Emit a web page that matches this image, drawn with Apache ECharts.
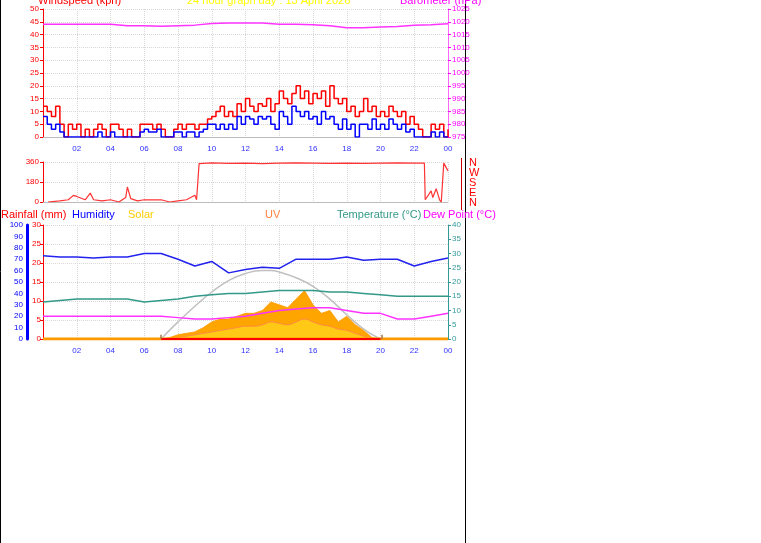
<!DOCTYPE html>
<html>
<head>
<meta charset="UTF-8">
<script src="https://cdn.jsdelivr.net/npm/echarts@6/dist/echarts.min.js"></script>
<style>html,body{margin:0;padding:0;background:#fff}#c{width:761px;height:543px}</style>
</head>
<body>
<div id="c"></div>
<script>
// 风速 15 分钟一点 (0..24h)
const gust = [12,10,8,12, 5,0,5,3, 5,0,3,0, 3,5,3,0, 5,5,3,0, 3,0,0,5, 5,5,3,5, 3,0,0,3,
  5,3,5,5, 3,5,5,7, 8,10,12,8, 10,8,13,10, 15,12,10,13, 12,15,10,13, 18,15,13,17, 20,15,18,13,
  17,15,18,12, 20,15,13,15, 10,12,8,10, 15,10,12,8, 10,8,12,10, 8,10,5,8, 5,3,0,0, 5,3,5,0, 3];
const avgWind = [8,5,3,5, 2,0,0,0, 0,0,0,0, 0,2,0,0, 2,0,0,0, 0,0,0,2, 3,2,2,3, 0,0,0,2,
  2,0,2,2, 0,2,3,5, 5,3,5,3, 5,3,8,5, 8,7,5,8, 7,8,5,3, 10,8,5,12, 10,8,10,7,
  8,5,10,7, 8,5,3,7, 3,5,0,5, 5,3,7,3, 5,3,7,5, 3,5,2,3, 0,0,0,0, 2,0,2,0, 0];
const baro = [1019,1019,1019,1019,1019,1018.5,1018.5,1018.3,1018.5,1018.7,1019.3,1019.5,1019.5,1019.5,
  1019,1019,1018.8,1018.5,1017.7,1017.7,1018,1018.2,1018.7,1018.8,1019.2];
const dirX = [0.3,1,1.5,1.8,2,2.5,2.8,3,3.5,4,4.5,4.9,5.0,5.2,5.6,6,7,7.5,8,8.5,9,9.1,9.2,9.25,10,11,12,13,14,15,16,17,18,19,20,21,22,22.6,22.65,23,23.1,23.3,23.5,23.6,23.7,23.75,23.8,24];
const dirY = [0,10,20,60,50,20,80,20,10,20,0,40,135,30,10,20,20,0,10,20,60,20,20,345,352,348,350,345,350,352,350,348,350,347,350,352,350,350,20,100,40,120,20,0,0,350,350,280];
const hours = [0,1,2,3,4,5,6,7,8,9,10,11,12,13,14,15,16,17,18,19,20,21,22,23,24];
const humidity = [73,72,72,71,72,72,75,75,70,64,68,58,61,63,62,70,70,70,72,69,70,70,64,68,71];
const temperature = [13,13.5,14,14,14,14,13,13.5,14,15,15.5,16,16,16.5,17,17,17,16.5,16.5,16,15.5,15,15,15,15];
const dewPoint = [8,8,8,8,8,8,8,8,7.5,7,7,7.5,8,9,10,10.5,11,11,10,9,9,7,7,8,9];
const solarX = [7,7.5,8,8.5,9,9.5,10,10.5,11,11.5,12,12.5,13,13.5,14,14.5,15,15.5,16,16.5,17,17.5,18,18.5,19,19.5,20];
const solar = [0,0.5,1.5,2,2.5,4,6,7,7,8,9,9,10,13,12,11,14,17,12,9,10,6,8,5,3,0.5,0];
const uv = [0,0.2,0.5,1,1.5,2,2.5,3,3.5,4,4.5,4.5,5,6,5.5,5,6,7,6,5,4.5,3.5,3,2,1,0.2,0];
const sunX = [7,8,9,10,11,12,13,13.5,14,15,16,17,18,19,20];
const sunY = [0,6,11.5,16.5,20.5,23,24,24,23.5,21.5,18.5,14,8.5,3.5,0];

const q = (xs, ys) => xs.map((x, i) => [x, ys[i]]);
const quarter = arr => arr.map((v, i) => [i / 4, v]);
const L = 43, W = 405;
const grids = [
  {left: L, top: 9, width: W, height: 128},
  {left: L, top: 162, width: W, height: 40},
  {left: L, top: 225, width: W, height: 114}
];
const dotted = {show: true, lineStyle: {color: '#d8d8d8', type: 'dotted'}};
const xAx = (gi, show) => ({
  type: 'value', gridIndex: gi, min: 0, max: 24, interval: 2,
  axisLine: {show: true, lineStyle: {color: '#bbb'}}, axisTick: {show: false},
  splitLine: dotted,
  axisLabel: {show: show, color: '#3030ff', fontSize: 8, fontFamily: 'Arial',
    formatter: v => v === 0 ? '' : String(v % 24).padStart(2, '0')}
});
const yAx = (gi, min, max, iv, color, pos, offset, show, extra) => Object.assign({
  type: 'value', gridIndex: gi, min, max, interval: iv, position: pos, offset: offset || 0,
  axisLine: {show: true, lineStyle: {color: color === '#ff00ff' ? '#ff66ff' : color, width: 1}},
  axisTick: {show: true, length: 3, lineStyle: {color}},
  axisLabel: {show: show, color, fontSize: 8, fontFamily: 'Arial', margin: 4, formatter: v => String(v)},
  splitLine: {show: false}
}, extra || {});

const option = {
  animation: false,
  backgroundColor: '#fff',
  grid: grids,
  xAxis: [xAx(0, true), xAx(1, false), xAx(2, true)],
  yAxis: [
    yAx(0, 0, 50, 5, '#ff0000', 'left', 0, true, {splitLine: dotted}),
    yAx(0, 975, 1025, 5, '#ff00ff', 'right', 0, true),
    yAx(1, 0, 360, 180, '#ff0000', 'left', 0, true, {splitLine: dotted}),
    yAx(2, 0, 30, 5, '#ff0000', 'left', 0, true, {splitLine: dotted,
      axisLabel: {color: '#ff0000', fontSize: 8, fontFamily: 'Arial', margin: 2}}),
    yAx(2, 0, 100, 10, '#0000ff', 'left', 16, true, {axisLine: {show: true, lineStyle: {color: '#0000ff', width: 3}},
      axisTick: {show: false}}),
    yAx(2, 0, 40, 5, '#339999', 'right', 0, true)
  ],
  series: [
    {type: 'line', xAxisIndex: 0, yAxisIndex: 0, data: quarter(gust), step: 'end', symbol: 'none', lineStyle: {color: '#ff0000', width: 1.5}},
    {type: 'line', xAxisIndex: 0, yAxisIndex: 0, data: quarter(avgWind), step: 'end', symbol: 'none', lineStyle: {color: '#0000ff', width: 1.5}},
    {type: 'line', xAxisIndex: 0, yAxisIndex: 1, data: q(hours, baro), symbol: 'none', lineStyle: {color: '#ff33ff', width: 1.5}},
    {type: 'line', xAxisIndex: 1, yAxisIndex: 2, data: q(dirX, dirY), symbol: 'none', lineStyle: {color: '#ff3333', width: 1.2}},
    {type: 'line', xAxisIndex: 2, yAxisIndex: 5, data: q(sunX, sunY), smooth: true, symbol: 'none', lineStyle: {color: '#c0c0c0', width: 1.5},
      markLine: {silent: true, symbol: 'none', label: {show: false}, lineStyle: {color: '#a0784a', type: 'solid', width: 1.5},
        data: [[{coord: [7, 0]}, {coord: [7, 1.5]}], [{coord: [20.1, 0]}, {coord: [20.1, 1.5]}]]}},
    {type: 'line', xAxisIndex: 2, yAxisIndex: 5, data: q(solarX, solar), symbol: 'none', lineStyle: {color: '#ff9900', width: 0.8},
      areaStyle: {color: '#ffa500', opacity: 1}},
    {type: 'line', xAxisIndex: 2, yAxisIndex: 5, data: q(solarX, uv), smooth: true, symbol: 'none', lineStyle: {color: '#ff8844', width: 1},
      areaStyle: {color: '#ffd21a', opacity: 0.8}},
    {type: 'line', xAxisIndex: 2, yAxisIndex: 3, data: [[0, 0], [24, 0]], symbol: 'none', lineStyle: {color: '#ff9900', width: 3}},
    {type: 'line', xAxisIndex: 2, yAxisIndex: 3, data: [[7, 0], [20, 0]], symbol: 'none', lineStyle: {color: '#ff0000', width: 2}},
    {type: 'line', xAxisIndex: 2, yAxisIndex: 4, data: q(hours, humidity), symbol: 'none', lineStyle: {color: '#2222ee', width: 1.5}},
    {type: 'line', xAxisIndex: 2, yAxisIndex: 5, data: q(hours, temperature), symbol: 'none', lineStyle: {color: '#339988', width: 1.5}},
    {type: 'line', xAxisIndex: 2, yAxisIndex: 5, data: q(hours, dewPoint), symbol: 'none', lineStyle: {color: '#ff33ff', width: 1.5}}
  ],
  graphic: [
    {type: 'line', shape: {x1: 0.5, y1: 0, x2: 0.5, y2: 543}, style: {stroke: '#000', lineWidth: 1}},
    {type: 'line', shape: {x1: 465.5, y1: 0, x2: 465.5, y2: 543}, style: {stroke: '#000', lineWidth: 1}},
    {type: 'line', shape: {x1: 461.5, y1: 158, x2: 461.5, y2: 210}, style: {stroke: '#cc0000', lineWidth: 1}},
    {type: 'text', left: 38, top: -5, style: {text: 'Windspeed (kph)', fill: '#ff0000', font: '11px Arial'}},
    {type: 'text', left: 187, top: -5, style: {text: '24 hour graph day : 13 April 2026', fill: '#ffff00', font: '11px Arial'}},
    {type: 'text', left: 400, top: -5, style: {text: 'Barometer (hPa)', fill: '#ff00ff', font: '11px Arial'}},
    {type: 'text', left: 469, top: 157, style: {text: 'N\nW\nS\nE\nN', fill: '#ff0000', font: '11px Arial', lineHeight: 10}},
    {type: 'text', left: 1, top: 209, style: {text: 'Rainfall (mm)', fill: '#ff0000', font: '11px Arial'}},
    {type: 'text', left: 72, top: 209, style: {text: 'Humidity', fill: '#0000ff', font: '11px Arial'}},
    {type: 'text', left: 128, top: 209, style: {text: 'Solar', fill: '#ffcc00', font: '11px Arial'}},
    {type: 'text', left: 265, top: 209, style: {text: 'UV', fill: '#ff8040', font: '11px Arial'}},
    {type: 'text', left: 337, top: 209, style: {text: 'Temperature (°C)', fill: '#339988', font: '11px Arial'}},
    {type: 'text', left: 423, top: 209, style: {text: 'Dew Point (°C)', fill: '#ff00ff', font: '11px Arial'}},
    {type: 'text', left: 290, top: 332, style: {text: 'Moon Set', fill: '#a08060', font: '9px Arial'}}
  ]
};
const chart = echarts.init(document.getElementById('c'));
chart.setOption(option);
</script>
</body>
</html>
